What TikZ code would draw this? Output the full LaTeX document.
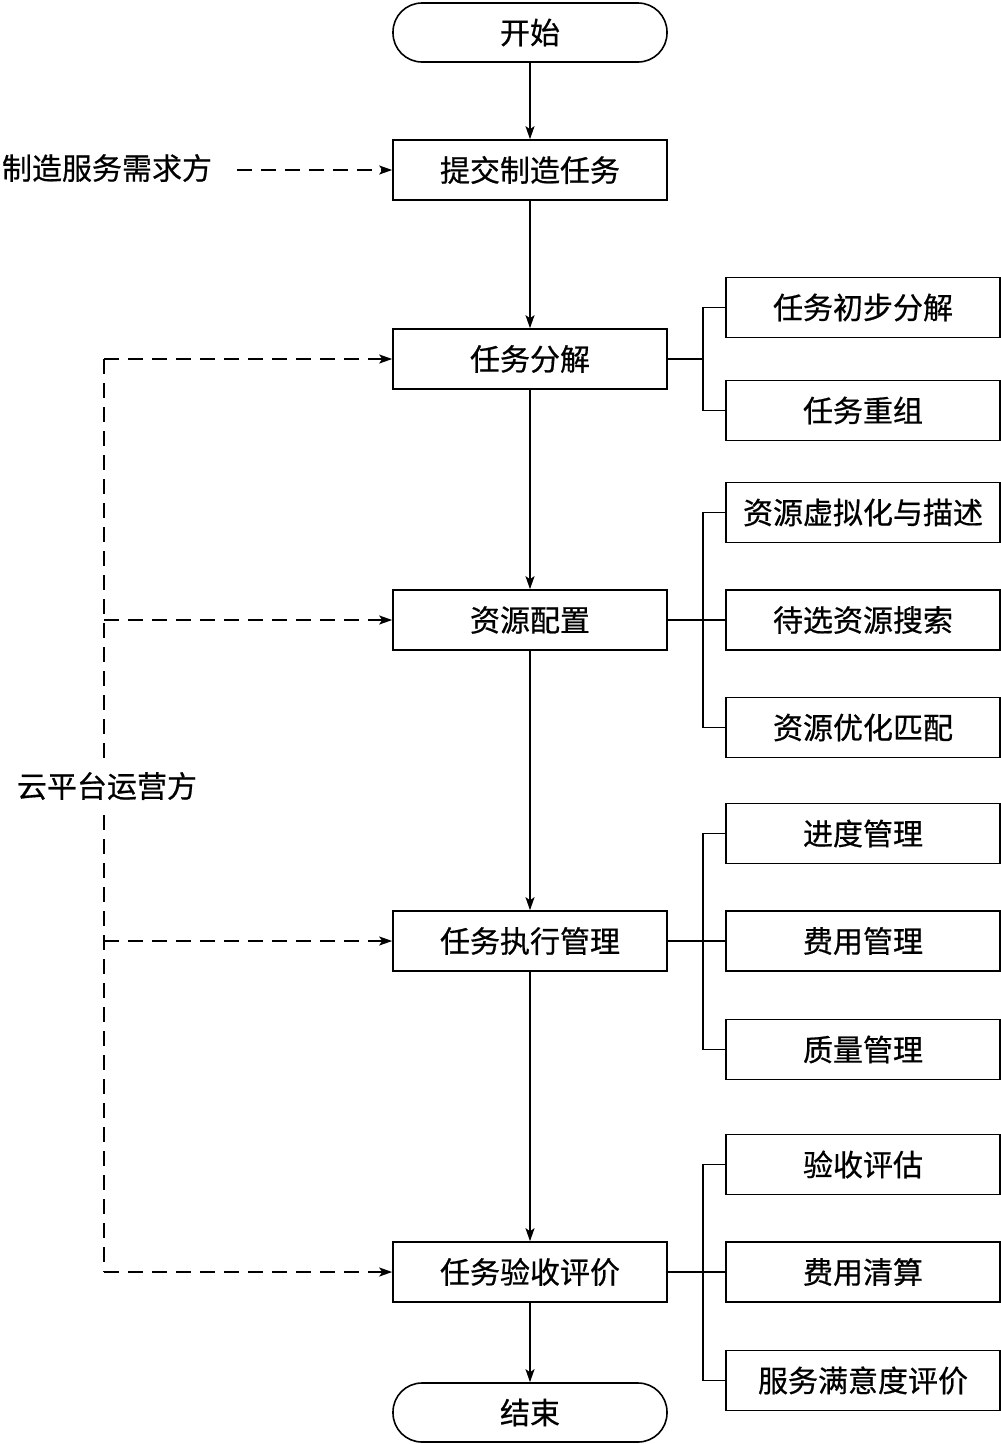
\documentclass[tikz,border=0pt]{standalone}
\usepackage{fontspec}
\newfontfamily\cjk[FakeBold=0.6]{Noto Sans CJK SC}
\usetikzlibrary{arrows.meta}
\begin{document}
\begin{tikzpicture}[x=1pt,y=-1pt,
  every node/.style={font=\cjk\fontsize{30}{34}\selectfont},
  mainbox/.style={draw,line width=1.6pt,minimum width=274pt,minimum height=60pt,inner sep=0pt},
  subbox/.style={draw,line width=1.6pt,minimum width=274pt,minimum height=60pt,inner sep=0pt},
  termbox/.style={draw,line width=1.6pt,rounded corners=29pt,minimum width=274pt,minimum height=59pt,inner sep=0pt},
  flow/.style={line width=1.6pt,-{Stealth[length=13pt,width=9pt,inset=3pt]}},
  dflow/.style={line width=1.6pt,dash pattern=on 15pt off 9pt,-{Stealth[length=13pt,width=9pt,inset=3pt]}},
  dline/.style={line width=1.6pt,dash pattern=on 15pt off 9pt},
  bracket/.style={line width=1.4pt}
]
\useasboundingbox (0,0) rectangle (1001,1444);
% main column
\node[termbox] (start) at (530,32.5) {开始};
\node[mainbox] (submit) at (530,170) {提交制造任务};
\node[mainbox] (decomp) at (530,359) {任务分解};
\node[mainbox] (alloc) at (530,620) {资源配置};
\node[mainbox] (exec) at (530,941) {任务执行管理};
\node[mainbox] (accept) at (530,1272) {任务验收评价};
\node[termbox] (end) at (530,1412.5) {结束};
\draw[flow] (start) -- (submit);
\draw[flow] (submit) -- (decomp);
\draw[flow] (decomp) -- (alloc);
\draw[flow] (alloc) -- (exec);
\draw[flow] (exec) -- (accept);
\draw[flow] (accept) -- (end);
% sub boxes
\node[subbox] (d1) at (863,307.5) {任务初步分解};
\node[subbox] (d2) at (863,410.5) {任务重组};
\node[subbox] (a1) at (863,512.5) {资源虚拟化与描述};
\node[subbox] (a2) at (863,620) {待选资源搜索};
\node[subbox] (a3) at (863,727.5) {资源优化匹配};
\node[subbox] (e1) at (863,833.5) {进度管理};
\node[subbox] (e2) at (863,941) {费用管理};
\node[subbox] (e3) at (863,1049.5) {质量管理};
\node[subbox] (v1) at (863,1164.5) {验收评估};
\node[subbox] (v2) at (863,1272) {费用清算};
\node[subbox] (v3) at (863,1380.5) {服务满意度评价};
% brackets
\coordinate (bx) at (703,0);
\draw[bracket] (decomp.east) -- (decomp.east -| bx);
\draw[bracket] (d1.west) -| (bx |- d1.west) |- (d2.west);
\draw[bracket] (alloc.east) -- (a2.west);
\draw[bracket] (a1.west) -| (bx |- a1.west) |- (a3.west);
\draw[bracket] (exec.east) -- (e2.west);
\draw[bracket] (e1.west) -| (bx |- e1.west) |- (e3.west);
\draw[bracket] (accept.east) -- (v2.west);
\draw[bracket] (v1.west) -| (bx |- v1.west) |- (v3.west);
% demand side
\node[inner sep=0pt] (demand) at (107,168) {制造服务需求方};
\coordinate (dstart) at (237,170);
\draw[dflow] (dstart) -- (submit.west);
% platform operator
\coordinate (px) at (104,0);
\coordinate (ptop) at (104,359);
\coordinate (pbot) at (104,1272);
\draw[dline] (ptop) -- (pbot);
\draw[dflow] (ptop) -- (decomp.west);
\draw[dflow] (px |- alloc.west) -- (alloc.west);
\draw[dflow] (px |- exec.west) -- (exec.west);
\draw[dflow] (pbot) -- (accept.west);
\node[fill=white,inner xsep=2pt,inner ysep=8pt] (oper) at (107,786) {云平台运营方};
\end{tikzpicture}
\end{document}
